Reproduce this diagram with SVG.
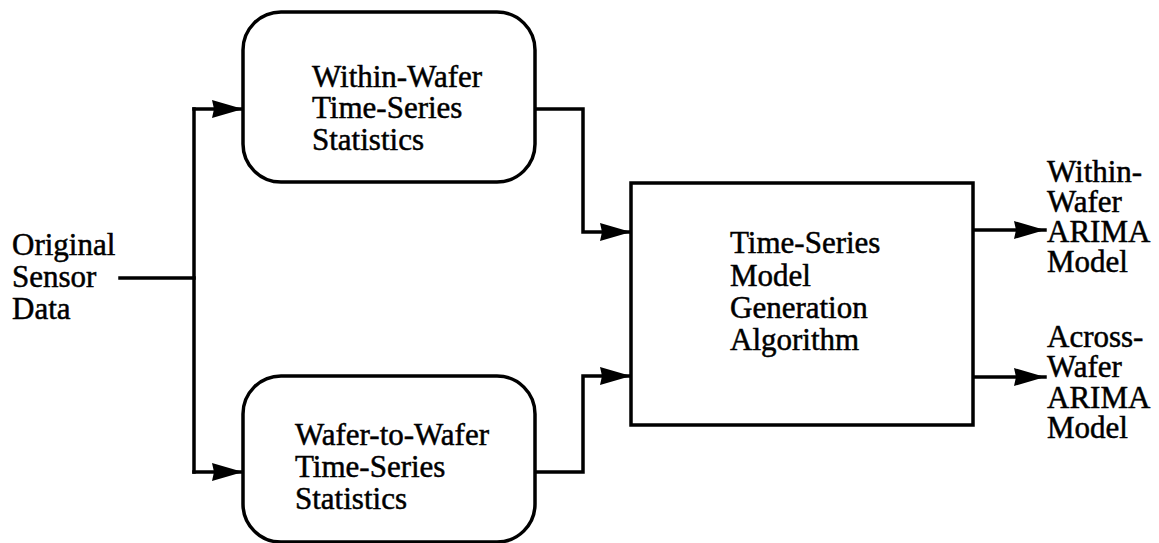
<svg xmlns="http://www.w3.org/2000/svg" width="1159" height="543" viewBox="0 0 1159 543">
<defs>
<style>
.box{fill:#fff;stroke:#000;stroke-width:3.5}
.ln{fill:none;stroke:#000;stroke-width:3.5;stroke-linejoin:miter;stroke-linecap:square}
text{font-family:"Liberation Serif","Times New Roman",serif;font-size:31px;fill:#000;stroke:#000;stroke-width:0.5}
</style>
<marker id="ah" markerUnits="userSpaceOnUse" markerWidth="32" markerHeight="20" refX="31" refY="9" orient="auto">
<polygon points="0,0 31,9 0,18 2,9" fill="#000"/>
</marker>
</defs>
<rect width="1159" height="543" fill="#fff"/>
<g id="connectors">
<polyline class="ln" points="120,278 194,278"/>
<polyline class="ln" points="194,109 194,472"/>
<polyline class="ln" points="194,109 243,109" marker-end="url(#ah)"/>
<polyline class="ln" points="194,472 243,472" marker-end="url(#ah)"/>
<polyline class="ln" points="535,109 583,109 583,232 631,232" marker-end="url(#ah)"/>
<polyline class="ln" points="535,472 583,472 583,376 631,376" marker-end="url(#ah)"/>
<polyline class="ln" points="973,230 1045,230" marker-end="url(#ah)"/>
<polyline class="ln" points="973,377 1045,377" marker-end="url(#ah)"/>
</g>
<g id="node-input">
<text x="12" y="255">Original</text>
<text x="12" y="287">Sensor</text>
<text x="12" y="319">Data</text>
</g>
<g id="node-within">
<rect class="box" x="243" y="12" width="292" height="170" rx="38" ry="38"/>
<text x="312" y="87">Within-Wafer</text>
<text x="312" y="118">Time-Series</text>
<text x="312" y="150">Statistics</text>
</g>
<g id="node-w2w">
<rect class="box" x="243" y="376" width="292" height="166" rx="38" ry="38"/>
<text x="295" y="445">Wafer-to-Wafer</text>
<text x="295" y="477">Time-Series</text>
<text x="295" y="509">Statistics</text>
</g>
<g id="node-model">
<rect class="box" x="631" y="183" width="342" height="242"/>
<text x="730" y="253">Time-Series</text>
<text x="730" y="286">Model</text>
<text x="730" y="318">Generation</text>
<text x="730" y="350">Algorithm</text>
</g>
<g id="node-out1">
<text x="1047" y="182">Within-</text>
<text x="1047" y="212">Wafer</text>
<text x="1047" y="242">ARIMA</text>
<text x="1047" y="272">Model</text>
</g>
<g id="node-out2">
<text x="1047" y="347">Across-</text>
<text x="1047" y="377">Wafer</text>
<text x="1047" y="408">ARIMA</text>
<text x="1047" y="438">Model</text>
</g>
</svg>
